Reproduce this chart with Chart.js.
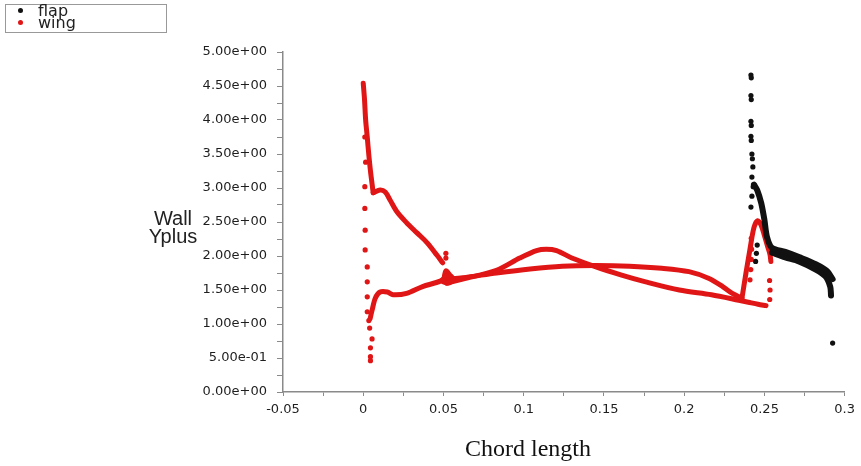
<!DOCTYPE html>
<html>
<head>
<meta charset="utf-8">
<script src="https://cdn.jsdelivr.net/npm/chart.js@4.4.1/dist/chart.umd.min.js"></script>
<style>
  body { margin: 0; background: #fff; }
  #wrap { position: relative; width: 861px; height: 466px; }
  #legend {
    position: absolute; left: 5px; top: 4px; width: 162px; height: 29px;
    box-sizing: border-box; border: 1.5px solid #999;
    font-family: "DejaVu Sans", sans-serif; font-size: 16px; line-height: 12px; color: #222;
    padding: 0 0 0 12px;
  }
  #legend .dot { display: inline-block; width: 5px; height: 5px; border-radius: 50%; margin-right: 15px; vertical-align: 3px; }
  #ylabel {
    position: absolute; left: 133px; top: 209px; width: 80px; text-align: center;
    font-family: Arial, "Liberation Sans", sans-serif; font-size: 20px; line-height: 18px; color: #222;
  }
  #xlabel {
    position: absolute; left: 378px; top: 436px; width: 300px; text-align: center;
    font-family: "Liberation Serif", "Times New Roman", serif; font-size: 24px; line-height: 24px; color: #111;
  }
</style>
</head>
<body>
<div id="wrap">
  <canvas id="wallYplus" width="861" height="466"></canvas>
  <div id="legend">
    <div><span class="dot" style="background:#111"></span>flap</div>
    <div><span class="dot" style="background:#e01515"></span>wing</div>
  </div>
  <div id="ylabel">Wall<br>Yplus</div>
  <div id="xlabel">Chord length</div>
</div>
<script>
// wing: leading edge column, front upper/lower lines, main element and trailing edge
const wingNose = [[0.000, 4.54], [0.0008, 4.30], [0.0015, 4.00], [0.0025, 3.75], [0.0035, 3.48],
  [0.0045, 3.25], [0.0055, 3.06], [0.0062, 2.93]];
const wingFrontUpper = [[0.0062, 2.93], [0.0105, 2.97], [0.0137, 2.94], [0.0168, 2.82], [0.021, 2.65],
  [0.027, 2.49], [0.0335, 2.34], [0.040, 2.19], [0.046, 2.01], [0.0495, 1.90]];
const wingFrontLower = [[0.0043, 1.08], [0.0056, 1.21], [0.0075, 1.38], [0.0105, 1.47], [0.015, 1.47],
  [0.0186, 1.43], [0.027, 1.45], [0.037, 1.55], [0.048, 1.63], [0.052, 1.70]];
const wingLoop = [[0.050, 1.62], [0.0515, 1.78], [0.054, 1.72], [0.056, 1.66], [0.053, 1.60], [0.050, 1.62]];
const wingHump = [[0.052, 1.60], [0.062, 1.66], [0.083, 1.79], [0.0975, 1.97], [0.108, 2.08], [0.114, 2.10],
  [0.1205, 2.08], [0.130, 1.97], [0.145, 1.84], [0.161, 1.72], [0.176, 1.62], [0.197, 1.50], [0.217, 1.43],
  [0.234, 1.35], [0.240, 1.32], [0.246, 1.29], [0.251, 1.27]];
const wingFlat = [[0.052, 1.66], [0.062, 1.68], [0.083, 1.75], [0.104, 1.81], [0.124, 1.85], [0.145, 1.86],
  [0.166, 1.85], [0.186, 1.82], [0.203, 1.77], [0.2155, 1.67], [0.224, 1.55], [0.230, 1.45], [0.236, 1.38]];
const wingTail = [[0.236, 1.38], [0.2385, 1.75], [0.241, 2.10], [0.2435, 2.42], [0.2458, 2.52], [0.248, 2.45],
  [0.250, 2.30], [0.252, 2.14], [0.2535, 2.02], [0.254, 1.92]];
const wingDots = [[0.001, 3.75], [0.0015, 3.38], [0.001, 3.02], [0.001, 2.70], [0.0012, 2.38], [0.0012, 2.09],
  [0.0025, 1.84], [0.0025, 1.62], [0.0025, 1.40], [0.0025, 1.18], [0.0035, 1.05], [0.004, 0.94], [0.0055, 0.78],
  [0.0045, 0.65], [0.0045, 0.52], [0.0045, 0.46],
  [0.0515, 2.04], [0.0515, 1.97],
  [0.2418, 2.26], [0.2420, 2.10], [0.2418, 1.95], [0.2415, 1.80], [0.2410, 1.65],
  [0.2532, 1.64], [0.2535, 1.50], [0.2533, 1.36]];

// flap
const flapUpper = [[0.2435, 3.05], [0.2455, 2.97], [0.248, 2.78], [0.250, 2.53], [0.2516, 2.28], [0.2547, 2.12],
  [0.263, 2.06], [0.272, 1.98], [0.282, 1.88], [0.289, 1.78], [0.2925, 1.66]];
const flapLower = [[0.2547, 2.05], [0.263, 1.98], [0.2715, 1.92], [0.282, 1.80], [0.288, 1.70], [0.291, 1.55],
  [0.2915, 1.42]];
const flapDots = [[0.2416, 4.66], [0.2418, 4.62], [0.2416, 4.36], [0.2418, 4.30], [0.2416, 3.98], [0.2418, 3.92],
  [0.2416, 3.76], [0.2418, 3.70], [0.2422, 3.50], [0.2425, 3.43], [0.2428, 3.31], [0.2422, 3.16], [0.2430, 3.02],
  [0.2422, 2.88], [0.2416, 2.72], [0.2455, 2.16], [0.2450, 2.04], [0.2445, 1.92], [0.2925, 0.72]];

const wingColor = '#e01515';
const flapColor = '#111111';

function pts(arr) {
  return arr.map(p => ({ x: p[0], y: p[1] }));
}

function curve(arr, color, width) {
  return {
    data: pts(arr), showLine: true, borderColor: color, backgroundColor: color,
    borderWidth: width || 5, pointRadius: 0, tension: 0.3,
    borderCapStyle: 'round', borderJoinStyle: 'round'
  };
}

function dots(arr, color) {
  return { data: pts(arr), showLine: false, backgroundColor: color, borderColor: color, pointRadius: 2.6, borderWidth: 0 };
}

function sci(v) {
  const parts = v.toExponential(2).split('e');
  const n = parseInt(parts[1], 10);
  return parts[0] + 'e' + (n < 0 ? '-' : '+') + String(Math.abs(n)).padStart(2, '0');
}

const tickFont = { family: '"DejaVu Sans", sans-serif', size: 13 };

new Chart(document.getElementById('wallYplus'), {
  type: 'scatter',
  data: {
    datasets: [
      curve(flapUpper, flapColor, 6),
      curve(flapLower, flapColor, 6),
      dots(flapDots, flapColor),
      curve(wingNose, wingColor),
      curve(wingFrontUpper, wingColor),
      curve(wingFrontLower, wingColor),
      curve(wingLoop, wingColor),
      curve(wingHump, wingColor),
      curve(wingFlat, wingColor),
      curve(wingTail, wingColor),
      dots(wingDots, wingColor)
    ]
  },
  options: {
    responsive: false,
    animation: false,
    layout: { padding: { top: 52, right: 15, left: 0, bottom: 0 } },
    plugins: { legend: { display: false }, tooltip: { enabled: false } },
    scales: {
      x: {
        type: 'linear', min: -0.05, max: 0.3,
        afterFit: s => { s.height = 74; },
        ticks: {
          stepSize: 0.025, autoSkip: false, maxRotation: 0, color: '#1e1e1e', font: tickFont, padding: 6,
          callback: v => Math.abs(v * 20 - Math.round(v * 20)) < 1e-6 ? String(parseFloat(v.toFixed(3))) : ''
        },
        grid: { drawOnChartArea: false, tickLength: 4, color: '#8a8a8a' },
        border: { color: '#8a8a8a', width: 1.5 }
      },
      y: {
        min: 0, max: 5,
        afterFit: s => { s.width = 283; },
        ticks: {
          stepSize: 0.25, autoSkip: false, color: '#1e1e1e', font: tickFont, padding: 10,
          callback: v => Math.abs(v * 2 - Math.round(v * 2)) < 1e-6 ? sci(v) : ''
        },
        grid: { drawOnChartArea: false, tickLength: 6, color: '#8a8a8a' },
        border: { color: '#8a8a8a', width: 1.5 }
      }
    }
  }
});
</script>
</body>
</html>
